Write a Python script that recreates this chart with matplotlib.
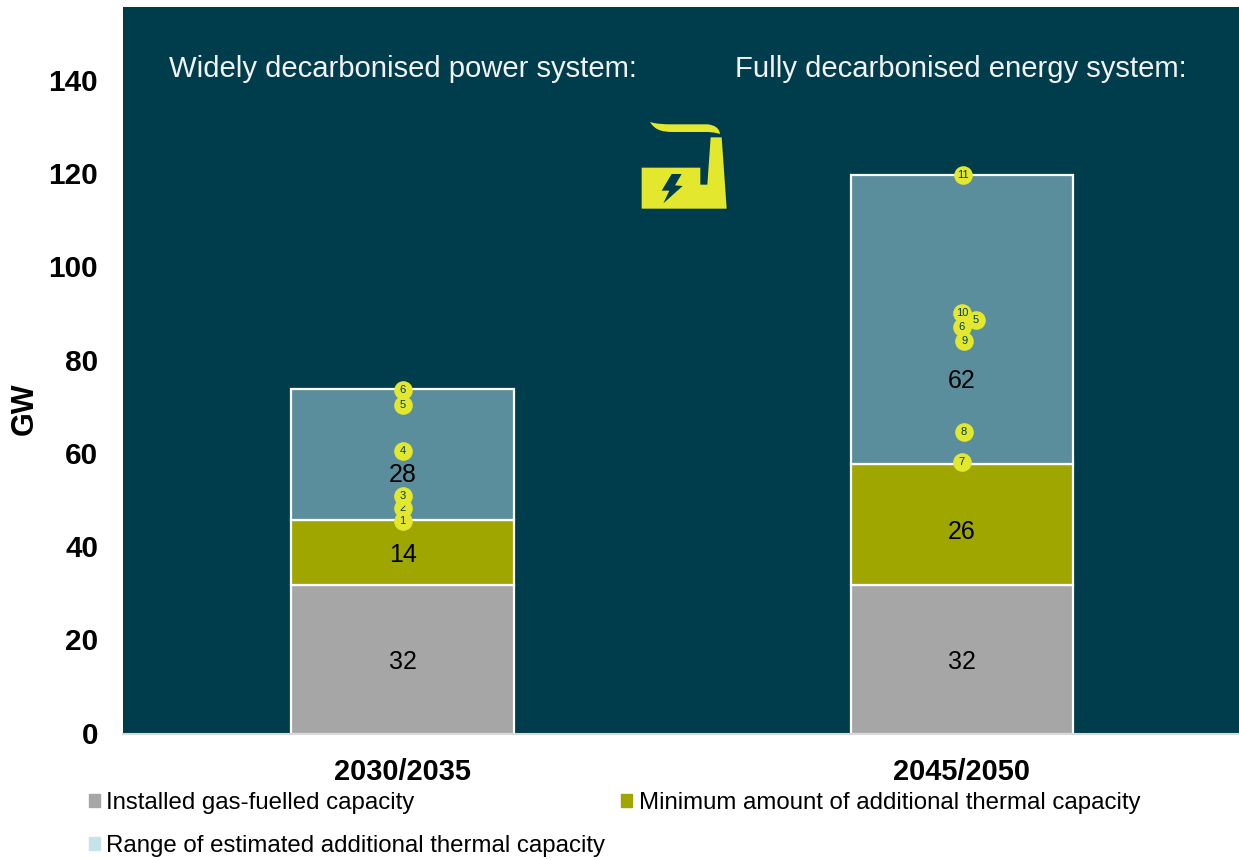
import matplotlib
matplotlib.use("Agg")
from matplotlib import pyplot as plt
from matplotlib.patches import Patch, PathPatch
from matplotlib.path import Path
from matplotlib.transforms import Affine2D, ScaledTranslation

plt.rcParams['font.family'] = ['Liberation Sans', 'DejaVu Sans']

# data
periods = ["2030/2035", "2045/2050"]
installed_gas = [32, 32]
min_additional = [14, 26]
range_additional = [28, 62]
yticks = [0, 20, 40, 60, 80, 100, 120, 140]

# where the numbers sit inside the segments
gas_label_y = [15.4, 15.4]
min_label_y = [38.4, 43.4]
range_label_y = [55.6, 75.8]

# numbered study markers (period index, value, label), in drawing order
marker_period = [0, 0, 0, 0, 0, 0, 1, 1, 1, 1, 1, 1, 1]
marker_offset = [0, 0, 0, 0, 0, 0, 0.002, 0.025, 0, 0, 0.004, 0.004, 0]
marker_value = [48.5, 45.7, 51.0, 60.7, 73.8, 70.5, 120.0, 88.8, 90.3, 87.3, 84.3, 64.8, 58.4]
marker_label = ["2", "1", "3", "4", "6", "5", "11", "5", "10", "6", "9", "8", "7"]

headers = ["Widely decarbonised power system:", "Fully decarbonised energy system:"]
header_x = [-0.4180, 0.5945]

GREY = "#A6A6A6"
OLIVE = "#A0A600"
TEAL = "#5A8E9C"
LIGHT = "#C5E3E8"
DARK = "#003D4C"
YELLOW = "#E3E82E"

W, H = 1239, 860
fig = plt.figure(figsize=(W / 100, H / 100), dpi=100, facecolor="white")
ax = fig.add_axes([123 / W, 1 - 734 / H, (W - 123) / W, 727 / H], facecolor=DARK)

xs = range(len(periods))
edge = dict(edgecolor="white", linewidth=1.6, width=0.398, zorder=2)
ax.bar(xs, installed_gas, color=GREY, **edge)
ax.bar(xs, min_additional, bottom=installed_gas, color=OLIVE, **edge)
bottoms = [a + b for a, b in zip(installed_gas, min_additional)]
ax.bar(xs, range_additional, bottom=bottoms, color=TEAL, **edge)

ax.set_xlim(-0.5, 1.4955)
ax.set_ylim(0, 156)

for x in xs:
    ax.text(x, gas_label_y[x], str(installed_gas[x]), ha="center", va="center", fontsize=18, color="black", zorder=3)
    ax.text(x, min_label_y[x], str(min_additional[x]), ha="center", va="center", fontsize=18, color="black", zorder=3)
    ax.text(x, range_label_y[x], str(range_additional[x]), ha="center", va="center", fontsize=18, color="black", zorder=3)

# markers, each one on top of the one before
for i in range(len(marker_value)):
    mx = marker_period[i] + marker_offset[i]
    ax.scatter([mx], [marker_value[i]], s=180, color=YELLOW, linewidths=0, zorder=4 + i * 0.01, clip_on=False)
    ax.text(mx, marker_value[i], marker_label[i], ha="center", va="center", fontsize=8, color=DARK, zorder=4 + i * 0.01 + 0.001)

for i in range(len(headers)):
    ax.text(header_x[i], 142.7, headers[i], ha="left", va="center", fontsize=21.1, color="#F2F2F2", zorder=3)

# axes styling
ax.set_xticks(list(xs))
ax.set_xticklabels(periods, fontsize=20.9, fontweight="bold")
ax.set_yticks(yticks)
ax.tick_params(axis="y", length=0, labelsize=21.4, pad=18)
ax.tick_params(axis="x", length=0, pad=17)
nudge = ScaledTranslation(0, 1.5 / 100, fig.dpi_scale_trans)
for lab in ax.get_yticklabels():
    lab.set_fontweight("bold")
    lab.set_transform(lab.get_transform() + nudge)
for side in ["top", "left", "right"]:
    ax.spines[side].set_visible(False)
ax.spines["bottom"].set_color("#D9D9D9")
ax.spines["bottom"].set_linewidth(1.5)

fig.text(25 / W, 1 - 409 / H, "GW", rotation=90, ha="center", va="center", fontsize=22, fontweight="bold")

# legend goes column first
handles = [Patch(color=GREY), Patch(color=LIGHT), Patch(color=OLIVE)]
labels = ["Installed gas-fuelled capacity", "Range of estimated additional thermal capacity",
          "Minimum amount of additional thermal capacity"]
fig.legend(handles, labels, ncol=2, frameon=False, fontsize=17.25, loc="upper left",
           bbox_to_anchor=(84 / W, 1 - 787 / H), handlelength=0.46, handleheight=0.46, handletextpad=0.27,
           columnspacing=0.66, labelspacing=0.87, borderaxespad=0, borderpad=0.2)


# factory icon, traced in the pixel coordinates of the picture
def icon_part(verts, codes=None):
    tr = Affine2D().scale(1 / 3).translate(620, 100).scale(1, -1).translate(0, H).scale(1 / W, 1 / H)
    path = Path(verts, codes).transformed(tr)
    return PathPatch(path, facecolor=YELLOW, edgecolor="none", transform=fig.transFigure, zorder=10)


body = [(65, 203), (241, 203), (241, 254), (262, 254), (272, 112), (305, 112), (320, 326), (65, 326), (65, 203)]
bolt = [(155, 222), (185, 222), (165, 256), (188, 258), (130, 310), (148, 272), (125, 272), (155, 222)]
smoke = [(90, 66), (110, 72), (130, 73), (160, 73), (262, 73), (285, 75), (298, 85), (300, 102),
         (285, 97), (270, 96), (255, 96), (160, 96), (125, 96), (105, 90), (90, 66)]
C = Path.CURVE4
smoke_codes = [Path.MOVETO, C, C, C, Path.LINETO, C, C, C, C, C, C, Path.LINETO, C, C, C]

fig.add_artist(icon_part(body))
fig.add_artist(icon_part(smoke, smoke_codes))
bolt_patch = icon_part(bolt)
bolt_patch.set_facecolor(DARK)
fig.add_artist(bolt_patch)

fig.savefig("out.png", dpi=100)
